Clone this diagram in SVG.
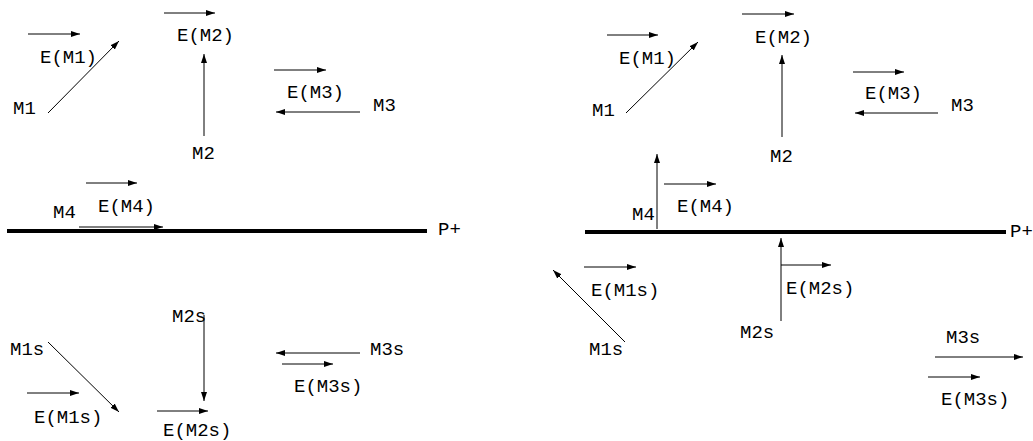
<svg xmlns="http://www.w3.org/2000/svg" width="1033" height="441" viewBox="0 0 1033 441">
<style>
text{font-family:"Liberation Mono","Courier New",monospace;font-size:19px;fill:#000}
.a{stroke:#000;stroke-width:1;fill:none;marker-end:url(#ah)}
.p{stroke:#000;stroke-width:4}
</style>
<defs>
<marker id="ah" markerUnits="userSpaceOnUse" markerWidth="10" markerHeight="8" refX="9" refY="3" orient="auto">
<path d="M0,0 L9,3 L0,6 z" fill="#000"/>
</marker>
</defs>
<rect width="1033" height="441" fill="#fff"/>
<g id="connectors">
<line class="a" x1="28" y1="34" x2="80" y2="34"/>
<line class="a" x1="48" y1="113" x2="119" y2="41"/>
<line class="a" x1="164" y1="13" x2="215" y2="13"/>
<line class="a" x1="204" y1="136" x2="204" y2="54"/>
<line class="a" x1="274" y1="70" x2="326" y2="70"/>
<line class="a" x1="360" y1="112" x2="276" y2="112"/>
<line class="a" x1="86" y1="183" x2="137" y2="183"/>
<line class="p" x1="7" y1="231" x2="427" y2="231"/>
<line class="a" x1="79" y1="227" x2="163" y2="227"/>
<line class="a" x1="204" y1="315" x2="204" y2="401"/>
<line class="a" x1="48" y1="342" x2="119" y2="412"/>
<line class="a" x1="27" y1="393" x2="79" y2="393"/>
<line class="a" x1="157" y1="411" x2="208" y2="411"/>
<line class="a" x1="360" y1="353" x2="276" y2="353"/>
<line class="a" x1="282" y1="364" x2="333" y2="364"/>
<line class="a" x1="607" y1="35" x2="658" y2="35"/>
<line class="a" x1="626" y1="113" x2="698" y2="42"/>
<line class="a" x1="742" y1="14" x2="794" y2="14"/>
<line class="a" x1="782" y1="137" x2="782" y2="55"/>
<line class="a" x1="853" y1="72" x2="904" y2="72"/>
<line class="a" x1="938" y1="113" x2="855" y2="113"/>
<line class="a" x1="657" y1="229" x2="657" y2="154"/>
<line class="a" x1="664" y1="184" x2="716" y2="184"/>
<line class="p" x1="585" y1="232" x2="1006" y2="232"/>
<line class="a" x1="781" y1="321" x2="781" y2="238"/>
<line class="a" x1="781" y1="265" x2="831" y2="265"/>
<line class="a" x1="584" y1="267" x2="636" y2="267"/>
<line class="a" x1="625" y1="342" x2="553" y2="270"/>
<line class="a" x1="935" y1="357" x2="1023" y2="357"/>
<line class="a" x1="928" y1="377" x2="980" y2="377"/>
</g>
<g id="L-EM1"><text x="40" y="63">E(M1)</text></g>
<g id="L-M1"><text x="13" y="114">M1</text></g>
<g id="L-EM2"><text x="177" y="41">E(M2)</text></g>
<g id="L-M2"><text x="192" y="159">M2</text></g>
<g id="L-EM3"><text x="287" y="98">E(M3)</text></g>
<g id="L-M3"><text x="373" y="111">M3</text></g>
<g id="L-EM4"><text x="98" y="212">E(M4)</text></g>
<g id="L-M4"><text x="53" y="218">M4</text></g>
<g id="L-P"><text x="438" y="235">P+</text></g>
<g id="L-M2s"><text x="172" y="322">M2s</text></g>
<g id="L-M1s"><text x="10" y="355">M1s</text></g>
<g id="L-EM1s"><text x="34" y="423">E(M1s)</text></g>
<g id="L-EM2s"><text x="163" y="436">E(M2s)</text></g>
<g id="L-M3s"><text x="370" y="355">M3s</text></g>
<g id="L-EM3s"><text x="294" y="392">E(M3s)</text></g>
<g id="R-EM1"><text x="619" y="64">E(M1)</text></g>
<g id="R-M1"><text x="592" y="116">M1</text></g>
<g id="R-EM2"><text x="755" y="43">E(M2)</text></g>
<g id="R-M2"><text x="770" y="162">M2</text></g>
<g id="R-EM3"><text x="865" y="99">E(M3)</text></g>
<g id="R-M3"><text x="951" y="111">M3</text></g>
<g id="R-EM4"><text x="677" y="212">E(M4)</text></g>
<g id="R-M4"><text x="632" y="220">M4</text></g>
<g id="R-P"><text x="1010" y="237">P+</text></g>
<g id="R-EM1s"><text x="591" y="296">E(M1s)</text></g>
<g id="R-EM2s"><text x="786" y="294">E(M2s)</text></g>
<g id="R-M2s"><text x="740" y="338">M2s</text></g>
<g id="R-M1s"><text x="589" y="355">M1s</text></g>
<g id="R-M3s"><text x="946" y="343">M3s</text></g>
<g id="R-EM3s"><text x="941" y="405">E(M3s)</text></g>
</svg>
